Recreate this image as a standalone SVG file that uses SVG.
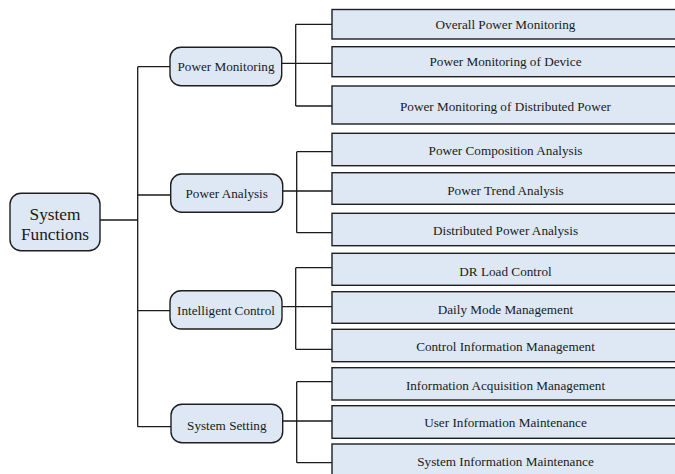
<svg xmlns="http://www.w3.org/2000/svg" width="675" height="474" viewBox="0 0 675 474">
<style>
.box{fill:#dde8f4;stroke:#1e1e1e;stroke-width:1.4}
.mid{fill:#dde8f4;stroke:#1e1e1e;stroke-width:1.4}
.ln{stroke:#1a1a1a;stroke-width:1.3;fill:none}
.t{font-size:13.2px}
.r{font-size:17.3px}
</style>
<rect width="675" height="474" fill="#ffffff"/>
<g id="connectors">
<path class="ln" d="M100 220H137.7M137.7 66.7V426.7M137.7 66.7H170M137.7 195H170.7M137.7 310.7H170M137.7 426.7H171"/>
<path class="ln" d="M281.7 63.3H333M295.7 24.3V106M295.7 24.3H332M295.7 106H332"/>
<path class="ln" d="M282.7 191H333M296.7 151.7V232.7M296.7 151.7H332M296.7 232.7H332"/>
<path class="ln" d="M282 306.7H333M295.7 267.7V349.3M295.7 267.7H332M295.7 349.3H332"/>
<path class="ln" d="M282.7 421H333M296.7 381.7V462.7M296.7 381.7H332M296.7 462.7H332"/>
</g>
<g font-family="'Liberation Serif', 'DejaVu Serif', serif" fill="#1a1a1a" text-anchor="middle">
<g id="root"><rect class="mid" x="10" y="193.3" width="90" height="57.4" rx="11"/><text class="r" x="55" y="219.5">System</text><text class="r" x="55" y="239.5">Functions</text></g>
<g id="n-pm"><rect class="mid" x="170" y="47.3" width="111.7" height="38.4" rx="11"/><text class="t" x="226" y="71">Power Monitoring</text></g>
<g id="n-pa"><rect class="mid" x="170.7" y="174" width="112" height="38.3" rx="11"/><text class="t" x="226.7" y="197.8">Power Analysis</text></g>
<g id="n-ic"><rect class="mid" x="170" y="290.7" width="112" height="38.3" rx="11"/><text class="t" x="226" y="315">Intelligent Control</text></g>
<g id="n-ss"><rect class="mid" x="171" y="404.3" width="111.7" height="38.4" rx="11"/><text class="t" x="226.8" y="429.5">System Setting</text></g>
<g id="l1"><rect class="box" x="332" y="9.5" width="350" height="29.5"/><text class="t" x="505.5" y="28.8">Overall Power Monitoring</text></g>
<g id="l2"><rect class="box" x="332" y="46.7" width="350" height="30"/><text class="t" x="505.5" y="66.2">Power Monitoring of Device</text></g>
<g id="l3"><rect class="box" x="332" y="86" width="350" height="38"/><text class="t" x="505.5" y="110.5">Power Monitoring of Distributed Power</text></g>
<g id="l4"><rect class="box" x="332" y="133.3" width="350" height="32.4"/><text class="t" x="505.5" y="155.2">Power Composition Analysis</text></g>
<g id="l5"><rect class="box" x="332" y="172.7" width="350" height="31.6"/><text class="t" x="505.5" y="194.5">Power Trend Analysis</text></g>
<g id="l6"><rect class="box" x="332" y="213.3" width="350" height="32.4"/><text class="t" x="505.5" y="234.5">Distributed Power Analysis</text></g>
<g id="l7"><rect class="box" x="332" y="253.3" width="350" height="32"/><text class="t" x="505.5" y="275.5">DR Load Control</text></g>
<g id="l8"><rect class="box" x="332" y="291.7" width="350" height="31.6"/><text class="t" x="505.5" y="313.5">Daily Mode Management</text></g>
<g id="l9"><rect class="box" x="332" y="329.3" width="350" height="32.4"/><text class="t" x="505.5" y="351.2">Control Information Management</text></g>
<g id="l10"><rect class="box" x="332" y="367.7" width="350" height="32.3"/><text class="t" x="505.5" y="389.5">Information Acquisition Management</text></g>
<g id="l11"><rect class="box" x="332" y="405.7" width="350" height="32.6"/><text class="t" x="505.5" y="427.2">User Information Maintenance</text></g>
<g id="l12"><rect class="box" x="332" y="444" width="350" height="40"/><text class="t" x="505.5" y="466.2">System Information Maintenance</text></g>
</g>
</svg>
